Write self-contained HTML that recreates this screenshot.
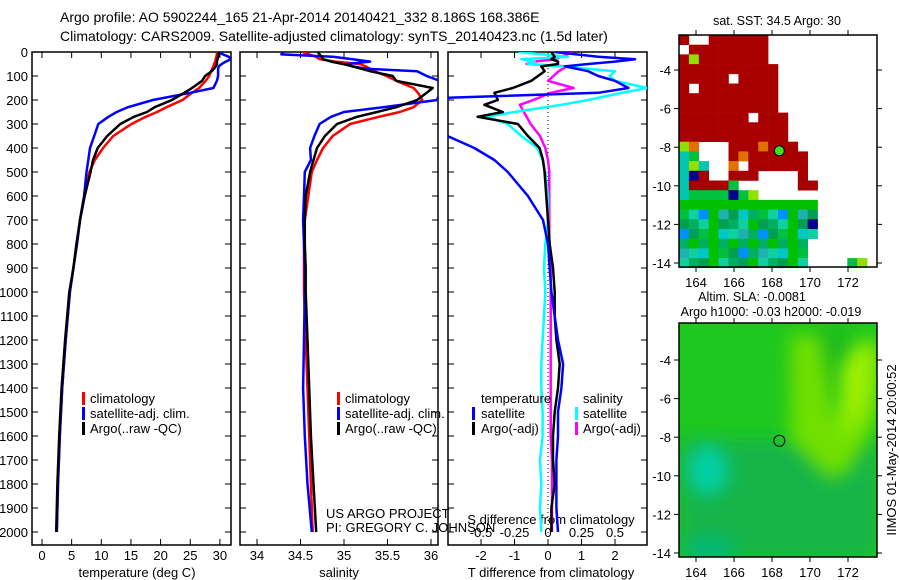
<!DOCTYPE html>
<html><head><meta charset="utf-8"><style>
html,body{margin:0;padding:0;background:#fff;}
svg{display:block;font-family:"Liberation Sans",sans-serif;}
text{fill:#000;}
</style></head><body>
<svg id="chart" width="900" height="580" viewBox="0 0 900 580">
<defs>
<clipPath id="c1"><rect x="32" y="52" width="199" height="493"/></clipPath>
<clipPath id="c2"><rect x="240" y="52" width="198" height="493"/></clipPath>
<clipPath id="c3"><rect x="448" y="52" width="199" height="493"/></clipPath>
<clipPath id="cm2"><rect x="679" y="323" width="198" height="234"/></clipPath>
<filter id="blur" x="-50%" y="-50%" width="200%" height="200%"><feGaussianBlur stdDeviation="9"/></filter>
</defs>
<text x="60" y="22" font-size="14">Argo profile: AO 5902244_165 21-Apr-2014 20140421_332 8.186S 168.386E</text>
<text x="60" y="41" font-size="14">Climatology: CARS2009. Satellite-adjusted climatology: synTS_20140423.nc (1.5d later)</text>
<g id="axes"></g>
<g id="maps"></g>
</svg>
<script>
// ---- profile data ----
const depthP = [0,10,20,30,40,50,60,70,80,100,120,150,170,200,230,250,270,300,350,400,450,500,600,700,800,900,1000,1200,1400,1600,1800,2000];
const climT = [29.5,29.5,29.4,29.3,29.2,29.0,28.9,28.7,28.5,28.2,27.6,26.5,25.3,23.7,21.0,19.4,17.5,15.1,12.0,10.3,8.9,8.0,7.1,6.4,5.9,5.3,4.7,4.0,3.4,3.0,2.7,2.5];
const argoT = [29.8,29.8,29.7,29.6,29.5,29.5,29.3,29.0,28.6,27.5,27.0,25.3,24.0,21.9,19.0,17.7,15.5,13.2,11.0,9.4,8.6,8.2,7.2,6.4,5.8,5.3,4.6,3.9,3.3,2.9,2.6,2.4];
const satT = [29.7,30.5,31.5,31.9,31.0,30.3,29.8,29.7,29.7,29.7,29.5,28.9,25.0,18.7,14.5,12.6,11.2,9.5,8.8,8.1,7.8,7.5,7.1,6.4,5.9,5.3,4.7,4.0,3.4,3.0,2.7,2.5];
const climS = [34.52,34.6,34.68,34.72,34.9,35.18,35.25,35.3,35.35,35.49,35.6,35.8,35.85,35.9,35.8,35.64,35.4,35.07,34.87,34.76,34.69,34.63,34.59,34.55,34.54,34.54,34.54,34.56,34.58,34.6,34.62,34.64];
const argoS = [34.7,34.72,34.74,34.76,34.85,34.99,35.1,35.2,35.3,35.56,35.6,36.02,35.95,35.84,35.6,35.38,35.15,34.92,34.78,34.69,34.65,34.61,34.56,34.55,34.55,34.56,34.56,34.58,34.6,34.62,34.65,34.68];
const satS = [34.3,34.28,34.87,35.1,35.3,35.03,35.1,35.26,35.84,35.95,36.1,36.1,36.1,36.07,35.45,35.0,34.85,34.72,34.66,34.61,34.62,34.55,34.54,34.53,34.54,34.55,34.55,34.54,34.53,34.55,34.58,34.63];
const depthD = [0,20,30,40,50,60,80,100,120,150,170,200,220,250,270,300,350,400,450,500,600,700,800,900,1000,1100,1200,1300,1400,1500,1600,1700,1800,1900,2000];
const dTsat = [0.2,1.5,2.6,2.0,1.2,0.5,1.2,1.5,2.0,2.4,1.5,-5,-6,-6.8,-6.5,-5.6,-3.0,-2.2,-1.6,-1.2,-0.6,-0.15,0.0,0.05,0.1,0.2,0.3,0.45,0.4,0.3,0.3,0.25,0.25,0.25,0.3];
const dTargo = [0.1,0.2,0.1,0.3,0.3,-0.2,-0.1,-0.3,-0.5,-1.05,-1.6,-1.5,-1.9,-1.35,-2.1,-0.9,-0.6,-0.25,-0.15,-0.1,-0.05,0.0,0.05,0.15,0.2,0.2,0.25,0.35,0.3,0.2,0.15,0.15,0.2,0.1,0.1];
const dSsat = [-0.22,0.15,-0.2,-0.1,-0.15,0.1,0.5,0.46,0.5,0.74,0.55,0.3,0.1,-0.25,-0.46,-0.3,-0.2,-0.08,-0.04,-0.02,0,0,-0.02,-0.03,-0.02,-0.03,-0.04,-0.05,-0.05,-0.04,-0.04,-0.06,-0.05,-0.06,-0.05];
const dSargo = [0.18,0.1,0.05,-0.1,-0.16,0.14,0.08,0.04,0.0,0.19,0.02,-0.11,-0.21,-0.18,-0.16,-0.13,-0.06,-0.02,0,0.01,0.01,0.01,0.01,0.02,0.02,0.02,0.02,0.02,0.02,0.02,0.02,0.03,0.03,0.03,0.03];
const depthTicks = [0,100,200,300,400,500,600,700,800,900,1000,1100,1200,1300,1400,1500,1600,1700,1800,1900,2000];
const tempTicks = [0,5,10,15,20,25,30];
const salTicks = [34,34.5,35,35.5,36];
const dTTicks = [-2,-1,0,1,2];
const dSTicks = [-0.5,-0.25,0,0.25,0.5];
const dSLabels = ["-0.5","-0.25","0","0.25","0.5"];

const NS='http://www.w3.org/2000/svg';
const axes=document.getElementById('axes');
const FS=13;
function mk(tag,attrs,parent){const e=document.createElementNS(NS,tag);for(const k in attrs)e.setAttribute(k,attrs[k]);(parent||axes).appendChild(e);return e;}
const yD=d=>52+d*0.24;
const xT=t=>42+t*5.93;
const xS=s=>257+(s-34)*87;
const xdT=v=>548+v*33.5;
const xdS=v=>548+v*134;

function frame(x0,x1,name){
  const r=mk('rect',{x:x0,y:52,width:x1-x0,height:493,fill:'none',stroke:'#000','stroke-width':1.5});
  
  
  depthTicks.forEach(d=>{
    const t1=mk('line',{x1:x0,x2:x0+6,y1:yD(d),y2:yD(d),stroke:'#000'});
    
    
    const t2=mk('line',{x1:x1-6,x2:x1,y1:yD(d),y2:yD(d),stroke:'#000'});
    
    
  });
}
function xticks(vals,fx,labels){
  vals.forEach((v,i)=>{
    const x=fx(v);
    const a=mk('line',{x1:x,x2:x,y1:545,y2:539,stroke:'#000'});
    
    
    const b=mk('line',{x1:x,x2:x,y1:52,y2:58,stroke:'#000'});
    
    
    const t=mk('text',{x:x,y:560,'font-size':FS,'text-anchor':'middle'});
    t.textContent=labels?labels[i]:String(v);
    
    
  });
}
function line(depths,vals,fx,color,clip,name,w){
  const pts=depths.map((d,i)=>fx(vals[i]).toFixed(1)+','+yD(d).toFixed(1)).join(' ');
  const p=mk('polyline',{points:pts,fill:'none',stroke:color,'stroke-width':w||2.5,'clip-path':'url(#'+clip+')','stroke-linejoin':'round'});
  
  
}
function txt(x,y,s,name,size,anchor,parent){
  const t=mk('text',{x:x,y:y,'font-size':size||FS,'text-anchor':anchor||'start'},parent);
  t.textContent=s;
  
  
  return t;
}
function legendMark(x,y,color){
  const m=mk('rect',{x:x,y:y-11,width:3,height:13,fill:color});
  
  
}

frame(32,231,'temperature-panel');
frame(240,438,'salinity-panel');
frame(448,647,'difference-panel');
depthTicks.forEach(d=>{txt(28,yD(d)+5,String(d),'depth-tick-label',FS,'end');});
xticks(tempTicks,xT);
xticks(salTicks,xS);
xticks(dTTicks,xdT);
dSTicks.forEach((v,i)=>{txt(xdS(v),537,dSLabels[i],'s-diff-tick-label',FS,'middle');});
txt(137,577,'temperature (deg C)','x-axis-title-temperature',FS,'middle');
txt(339,577,'salinity','x-axis-title-salinity',FS,'middle');
txt(551,577,'T difference from climatology','x-axis-title-t-diff',FS,'middle');
txt(551,524,'S difference from climatology','s-diff-axis-title',FS,'middle');

const z=mk('line',{x1:548,x2:548,y1:52,y2:545,stroke:'#000','stroke-dasharray':'1,3'});



line(depthP,climT,xT,'#ff0000','c1','temp-climatology-line');
line(depthP,satT,xT,'#0000ff','c1','temp-satellite-line');
line(depthP,argoT,xT,'#000000','c1','temp-argo-line');
line(depthP,climS,xS,'#ff0000','c2','sal-climatology-line');
line(depthP,satS,xS,'#0000ff','c2','sal-satellite-line');
line(depthP,argoS,xS,'#000000','c2','sal-argo-line');
line(depthD,dSargo,xdS,'#ff00ff','c3','s-diff-argo-line');
line(depthD,dSsat,xdS,'#00ffff','c3','s-diff-satellite-line');
line(depthD,dTargo,xdT,'#000000','c3','t-diff-argo-line');
line(depthD,dTsat,xdT,'#0000ff','c3','t-diff-satellite-line');

[['climatology','#ff0000'],['satellite-adj. clim.','#0000ff'],['Argo(..raw -QC)','#000000']].forEach((e,i)=>{
  legendMark(82,403+i*15,e[1]); txt(90,403+i*15,e[0],'legend-entry-temp');
  legendMark(337,403+i*15,e[1]); txt(345,403+i*15,e[0],'legend-entry-sal');
});
txt(481,403,'temperature','legend-title-temperature');
txt(583,403,'salinity','legend-title-salinity');
legendMark(472,418,'#0000ff'); txt(481,418,'satellite','legend-entry-t-sat');
legendMark(472,433,'#000000'); txt(481,433,'Argo(-adj)','legend-entry-t-argo');
legendMark(575,418,'#00ffff'); txt(583,418,'satellite','legend-entry-s-sat');
legendMark(575,433,'#ff00ff'); txt(583,433,'Argo(-adj)','legend-entry-s-argo');
txt(326,518,'US ARGO PROJECT','project-credit');
txt(326,532,'PI: GREGORY C. JOHNSON','pi-credit');

// ---- maps ----
const maps=document.getElementById('maps');
const lonX=l=>696+(l-164)*19;
const latY1=l=>70+(-4-l)*19.3;
const latY2=l=>360+(-4-l)*19.3;
const mapRows=[
"rwwrrrrrrwwwwwwwwwww",
"wrrrrrrrrwwwwwwwwwww",
"rmrrrrrrrwwwwwwwwwww",
"rrrrrrrrrrwwwwwwwwww",
"rrrrrwrrrrwwwwwwwwww",
"rwrrrrrrrrwwwwwwwwww",
"rrrrrrrrrrwwwwwwwwww",
"rrrrrrrrrrwwwwwwwwww",
"rrrrrrrwrrrwwwwwwwww",
"rrrrrrrrrrrwwwwwwwww",
"rrrrrrrrrrrwwwwwwwww",
"mowwwrrrorrrwwwwwwww",
"cgwwwrorrrrrrwwwwwww",
"cmcwwowrrrrrrwwwwwww",
"cbrwwrrrwwwwrwwwwwww",
"crrrrgwwwwwwrrwwwwww",
"cggggbgmwwwwwwwwwwww",
"xxxxxxxxxxxxxxwwwwww",
"xxxxxxxxxxxxxxwwwwww",
"xxxxxxxxxxxxxbwwwwww",
"xxxxxxxxxxxxxxwwwwww",
"xxxxxxxxxxxxxwwwwwww",
"xxxxxxxxxxxxxwwwwwww",
"xxxxxxxxxxxxxwwwwgmw"];
const pal={r:'#a80000',o:'#e07000',c:'#00c8b0',g:'#00c040',b:'#000090',m:'#90e000'};
const mix=['#00c8c8','#00b060','#00c040','#10d0a0','#0090ff','#00c000','#20b0b0','#00a050'];
mapRows.forEach((row,j)=>{
  for(let i=0;i<row.length;i++){
    const ch=row[i]; if(ch==='w')continue;
    let col=pal[ch]; if(ch==='x')col=mix[(i*7+j*13+i*j)%mix.length];
    const x=679+i*9.9, y=35+j*9.7;
    const r=mk('rect',{x:x.toFixed(1),y:y.toFixed(1),width:10.2,height:10,fill:col},maps);
    
    
  }
});
function mapFrame(y0,h,latY,name){
  const r=mk('rect',{x:679,y:y0,width:198,height:h,fill:'none',stroke:'#000','stroke-width':1.5},maps);
  
  
  [164,166,168,170,172].forEach(l=>{
    const x=lonX(l);
    const a=mk('line',{x1:x,x2:x,y1:y0+h,y2:y0+h+5,stroke:'#000'},maps);
    
    
    const b=mk('line',{x1:x,x2:x,y1:y0,y2:y0-5,stroke:'#000'},maps);
    
    
    txt(x,y0+h+20,String(l),'map-lon-label',FS,'middle',maps);
  });
  [-4,-6,-8,-10,-12,-14].forEach(l=>{
    const y=latY(l);
    const a=mk('line',{x1:674,x2:679,y1:y,y2:y,stroke:'#000'},maps);
    
    
    const b=mk('line',{x1:877,x2:882,y1:y,y2:y,stroke:'#000'},maps);
    
    
    txt(671,y+5,String(l),'map-lat-label',FS,'end',maps);
  });
}
const g2=mk('g',{'clip-path':'url(#cm2)'},maps);


mk('rect',{x:679,y:323,width:198,height:234,fill:'#1ec81e'},g2);
mk('rect',{x:679,y:440,width:198,height:117,fill:'#14b448',filter:'url(#blur)'},g2);
mk('polygon',{points:'820,330 850,330 845,380 800,420 790,360',fill:'#1cb81c',filter:'url(#blur)'},g2);
mk('polygon',{points:'820,335 835,420 860,380 870,340 877,335 877,420 850,470 830,480 790,440 790,335',fill:'#70e000',filter:'url(#blur)'},g2);
mk('polygon',{points:'840,370 860,340 877,350 870,400 845,440',fill:'#a0f000',filter:'url(#blur)'},g2);
mk('ellipse',{cx:708,cy:470,rx:20,ry:25,fill:'#00d0a8',filter:'url(#blur)'},g2);
mk('ellipse',{cx:710,cy:550,rx:25,ry:12,fill:'#00b880',filter:'url(#blur)'},g2);
mapFrame(35,232,latY1,'sst-map-frame');
mapFrame(323,234,latY2,'sla-map-frame');
const dot=mk('circle',{cx:lonX(168.386),cy:latY1(-8.186),r:5,fill:'#40e020',stroke:'#000','stroke-width':1},maps);


const ring=mk('circle',{cx:lonX(168.386),cy:latY2(-8.186),r:5.5,fill:'none',stroke:'#000','stroke-width':1},maps);


txt(777,25,'sat. SST: 34.5 Argo: 30','sst-map-title',12.5,'middle',maps);
txt(752,301,'Altim. SLA: -0.0081','sla-map-title',12.5,'middle',maps);
txt(771,316,'Argo h1000: -0.03 h2000: -0.019','sla-map-subtitle',12.5,'middle',maps);
const rt=txt(0,0,'IIMOS 01-May-2014 20:00:52','timestamp',FS,'middle',maps);
rt.setAttribute('transform','translate(896,450) rotate(-90)');
</script>
</body></html>
